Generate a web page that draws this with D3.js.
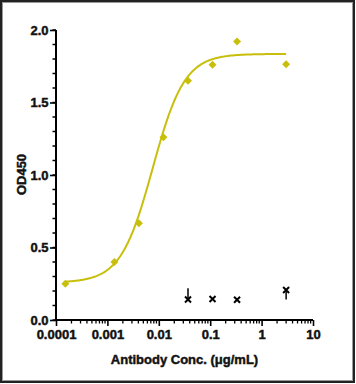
<!DOCTYPE html>
<html><head><meta charset="utf-8">
<script src="https://cdn.jsdelivr.net/npm/d3@7"></script>
<style>body{margin:0;background:#fff}svg{display:block}text{font-family:"Liberation Sans",Arial,sans-serif;font-weight:700;fill:#111;stroke:#111;stroke-width:0.45px}</style>
</head><body>
<svg id="c" width="356" height="384"></svg>
<script>
// Data
const concSample = [0.000152, 0.00137, 0.0041, 0.0123, 0.037, 0.111, 0.333, 3];
const odSample   = [0.25, 0.40, 0.667, 1.26, 1.65, 1.76, 1.92, 1.763];
const concNeg    = [0.037, 0.111, 0.333, 3];
const odNeg      = [0.141, 0.145, 0.140, 0.207];
const errNeg     = [0.078, 0.0, 0.0, -0.065];
const fitParams  = {bottom: 0.258, top: 1.835, ec50: 0.0076, hill: 1.4};
const xTickVals  = [0.0001, 0.001, 0.01, 0.1, 1, 10];
const xTickLabels= ["0.0001", "0.001", "0.01", "0.1", "1", "10"];
const yTickVals  = [0, 0.5, 1.0, 1.5, 2.0];
const yTickLabels= ["0.0", "0.5", "1.0", "1.5", "2.0"];

const svg = d3.select("#c");
const color = "#c8bf0c";
const FS = 13;
const x = d3.scaleLog().domain([1e-4, 10]).range([56, 313]);
const y = d3.scaleLinear().domain([0, 2]).range([320, 30]);

// frame
svg.append("rect").attr("x",1).attr("y",1).attr("width",353).attr("height",381)
  .attr("fill","none").attr("stroke","#222").attr("stroke-width",2);
svg.append("rect").attr("x",2.5).attr("y",2.5).attr("width",350).attr("height",378)
  .attr("fill","none").attr("stroke","#999").attr("stroke-width",1);

// y axis
const yMinor = d3.range(0, 2.0001, 0.1);
svg.append("g").selectAll("line").data(yMinor).join("line")
  .attr("x1", 52.5).attr("x2", 56).attr("y1", d=>y(d)).attr("y2", d=>y(d))
  .attr("stroke","#000").attr("stroke-width",1.5);
const yAx = svg.append("g").attr("transform","translate(56,0)")
  .call(d3.axisLeft(y).tickValues(yTickVals).tickFormat((d,i)=>yTickLabels[i]).tickSize(6).tickPadding(1.5));
yAx.attr("font-family","Liberation Sans, Arial, sans-serif").attr("font-weight","700").attr("font-size",FS);
yAx.select(".domain").attr("stroke","#000").attr("stroke-width",2).attr("d","M0,320.5V30");
yAx.selectAll(".tick line").attr("stroke","#000").attr("stroke-width",1.6);
yAx.selectAll(".tick text").attr("font-size",FS).attr("fill","#111");

// x axis
const xMinor = [];
for (let e=-4; e<1; e++) for (let m=2; m<10; m++) xMinor.push(m*Math.pow(10,e));
svg.append("g").selectAll("line").data(xMinor).join("line")
  .attr("x1", d=>x(d)).attr("x2", d=>x(d)).attr("y1", 320).attr("y2", 323.5)
  .attr("stroke","#000").attr("stroke-width",1.3);
const xAx = svg.append("g").attr("transform","translate(0,320)")
  .call(d3.axisBottom(x).tickValues(xTickVals).tickFormat((d,i)=>xTickLabels[i]).tickSize(6).tickPadding(4));
xAx.attr("font-family","Liberation Sans, Arial, sans-serif").attr("font-weight","700").attr("font-size",FS);
xAx.select(".domain").attr("stroke","#000").attr("stroke-width",2).attr("d","M55,0H313");
xAx.selectAll(".tick line").attr("stroke","#000").attr("stroke-width",1.6);
xAx.selectAll(".tick text").attr("font-size",FS).attr("fill","#111");

// titles
svg.append("text").attr("x",184.5).attr("y",363.5).attr("text-anchor","middle").attr("font-size",FS).text("Antibody Conc. (μg/mL)");
svg.append("text").attr("transform","translate(26,174.5) rotate(-90)").attr("text-anchor","middle").attr("font-size",FS).text("OD450");

// fit curve
const f = c => fitParams.bottom + (fitParams.top - fitParams.bottom)/(1 + Math.pow(fitParams.ec50/c, fitParams.hill));
const lx0 = Math.log10(d3.min(concSample)), lx1 = Math.log10(d3.max(concSample));
const curvePts = d3.range(0, 201).map(i => { const c = Math.pow(10, lx0 + (lx1-lx0)*i/200); return [x(c), y(f(c))]; });
svg.append("path").attr("d", d3.line()(curvePts)).attr("fill","none").attr("stroke",color).attr("stroke-width",2);

// sample points (diamonds)
svg.append("g").selectAll("path").data(concSample).join("path")
  .attr("d", (d,i)=>{const cx=x(d), cy=y(odSample[i]), r=4; return `M${cx},${cy-r}L${cx+r},${cy}L${cx},${cy+r}L${cx-r},${cy}Z`;})
  .attr("fill", color);

// negative control error bars and X markers
const neg = svg.append("g");
concNeg.forEach((c,i)=>{
  const cx = x(c), cy = y(odNeg[i]);
  if (errNeg[i] !== 0) {
    const ye = y(odNeg[i] + errNeg[i]);
    neg.append("line").attr("x1",cx).attr("x2",cx).attr("y1",cy).attr("y2",ye).attr("stroke","#000").attr("stroke-width",1.5);
  }
  const r = 3;
  neg.append("path").attr("d",`M${cx-r},${cy-r}L${cx+r},${cy+r}M${cx+r},${cy-r}L${cx-r},${cy+r}`)
    .attr("stroke","#000").attr("stroke-width",2).attr("fill","none");
});
</script>
</body></html>
